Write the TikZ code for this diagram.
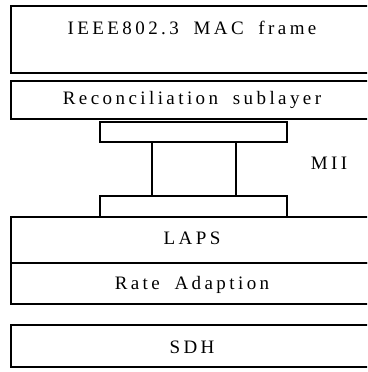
\documentclass[tikz,border=0pt]{standalone}
\usepackage{fontspec}
\setmainfont{Liberation Serif}[LetterSpace=18,WordSpace=1.8]
\begin{document}
\begin{tikzpicture}[x=1pt,y=-1pt,
  layer/.style={draw=black, line width=1.4pt, inner sep=0pt},
  txt/.style={font=\fontsize{19}{22}\selectfont, inner sep=0pt, anchor=center}]
\clip (0,0) rectangle (367,372);
\fill[white] (0,0) rectangle (367,372);
% protocol stack layers (right edges run past the frame)
\node[layer, minimum width=362pt, minimum height=67pt] (mac) at (192,39.5) {};
\node[txt] (mactxt) at (192,28) {IEEE802.3 MAC frame};
\node[layer, minimum width=362pt, minimum height=38pt] (rs) at (192,100) {};
\node[txt] at (rs.center) {Reconciliation sublayer};
% MII connector
\node[layer, minimum width=187pt, minimum height=20pt] (miitop) at (193.5,132) {};
\node[layer, minimum width=84pt, minimum height=54pt] (miimid) at (194,169) {};
\node[layer, minimum width=187pt, minimum height=21pt] (miibot) at (193.5,206.5) {};
\node[txt] (mii) at (329,163) {MII};
% lower layers
\node[layer, minimum width=362pt, minimum height=46pt] (laps) at (192,240) {};
\node[txt] at (192,238) {LAPS};
\node[layer, minimum width=362pt, minimum height=41pt] (rate) at (192,283.5) {};
\node[txt] at (192,285) {Rate Adaption};
\node[layer, minimum width=362pt, minimum height=42pt] (sdh) at (192,346) {};
\node[txt] at (192,347) {SDH};
\end{tikzpicture}
\end{document}
